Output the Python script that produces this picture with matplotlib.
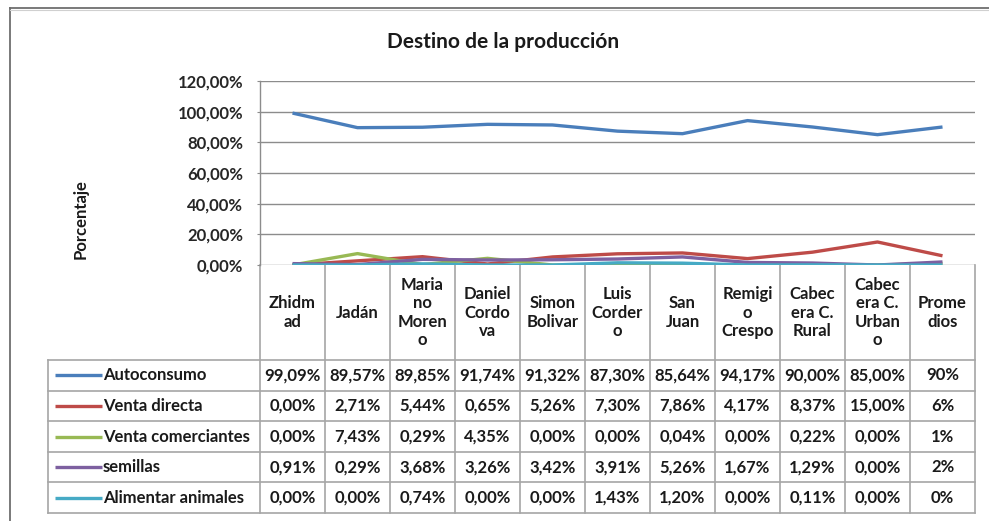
import matplotlib
matplotlib.use("Agg")
import matplotlib.pyplot as plt
from matplotlib.ticker import FuncFormatter

plt.rcParams['font.family'] = ['Lato', 'DejaVu Sans']

# ---------------- data ----------------
categories = ["Zhidm\nad", "Jadán", "Maria\nno\nMoren\no", "Daniel\nCordo\nva",
              "Simon\nBolivar", "Luis\nCorder\no", "San\nJuan", "Remigi\no\nCrespo",
              "Cabec\nera C.\nRural", "Cabec\nera C.\nUrban\no", "Prome\ndios"]
series_names = ["Autoconsumo", "Venta directa", "Venta comerciantes", "semillas",
                "Alimentar animales"]
autoconsumo = [99.09, 89.57, 89.85, 91.74, 91.32, 87.30, 85.64, 94.17, 90.00, 85.00, 90]
venta_directa = [0.00, 2.71, 5.44, 0.65, 5.26, 7.30, 7.86, 4.17, 8.37, 15.00, 6]
venta_comerciantes = [0.00, 7.43, 0.29, 4.35, 0.00, 0.00, 0.04, 0.00, 0.22, 0.00, 1]
semillas = [0.91, 0.29, 3.68, 3.26, 3.42, 3.91, 5.26, 1.67, 1.29, 0.00, 2]
alimentar_animales = [0.00, 0.00, 0.74, 0.00, 0.00, 1.43, 1.20, 0.00, 0.11, 0.00, 0]
y_ticks = [0, 20, 40, 60, 80, 100, 120]
title = "Destino de la producción"
y_label = "Porcentaje"

series = [autoconsumo, venta_directa, venta_comerciantes, semillas, alimentar_animales]
colors = ["#4A7EBB", "#BE4B48", "#98B954", "#7D60A0", "#46AAC5"]

# ---------------- layout (pixels) ----------------
W, H = 989, 521
fig = plt.figure(figsize=(W / 100, H / 100), dpi=100)

px_left, px_right = 260, 975
px_top, px_zero = 81, 265
header_bottom = 360
row_h = 30.6
legend_left = 48
fs = 12

ax = fig.add_axes([px_left / W, 1 - px_zero / H, (px_right - px_left) / W,
                   (px_zero - px_top) / H])
n = len(categories)
x = list(range(n))
for vals, c in zip(series, colors):
    ax.plot(x, vals, color=c, lw=2.4, solid_joinstyle='round', solid_capstyle='butt',
            zorder=3)
ax.set_xlim(-0.5, n - 0.5)
ax.set_ylim(min(y_ticks), max(y_ticks))
ax.set_yticks(y_ticks)
ax.yaxis.set_major_formatter(FuncFormatter(lambda v, p: f"{v:.2f}%".replace('.', ',')))
ax.set_xticks([])
ax.grid(axis='y', color='#8C8C8C', lw=1.0, zorder=1)
for s in ['top', 'right', 'bottom']:
    ax.spines[s].set_visible(False)
ax.spines['left'].set_color('#8C8C8C')
ax.spines['left'].set_linewidth(1.0)
ax.tick_params(axis='y', length=2, color='#8C8C8C', pad=10, labelsize=fs,
               labelcolor='#262626')
for lab in ax.get_yticklabels():
    lab.set_fontweight('bold')
ax.set_facecolor('none')

# overlay axes in pixel coordinates for title, frame and data table
ov = fig.add_axes([0, 0, 1, 1], zorder=-1)
ov.set_xlim(0, W)
ov.set_ylim(H, 0)
ov.axis('off')

# outer chart frame: only top and left edges are visible in the crop
ov.plot([10, W + 5], [8, 8], color='#6E6E6E', lw=1.3, clip_on=False)
ov.plot([10, 10], [8, H + 5], color='#6E6E6E', lw=1.3, clip_on=False)
ov.plot([10, W + 5], [9.5, 9.5], color='#D0D0D0', lw=0.8, clip_on=False)

ov.text(503, 42, title, ha='center', va='center', fontsize=15, fontweight='bold',
        color='#1A1A1A')
ov.text(81, 219, y_label, ha='center', va='center', rotation=90, fontsize=12,
        fontweight='bold', color='#1A1A1A')

grid_c = '#A6A6A6'
col_w = (px_right - px_left) / n
col_edges = [px_left + i * col_w for i in range(n + 1)]
n_rows = len(series)
row_edges = [header_bottom + i * row_h for i in range(n_rows + 1)]
table_bottom = row_edges[-1]

for xe in col_edges:
    ov.plot([xe, xe], [px_zero, table_bottom], color=grid_c, lw=1.2)
ov.plot([legend_left, legend_left], [header_bottom, table_bottom], color=grid_c, lw=1.2)
for ye in row_edges:
    ov.plot([legend_left, px_right], [ye, ye], color=grid_c, lw=1.2)

hy = (px_zero + header_bottom) / 2
for i, cat in enumerate(categories):
    cx = (col_edges[i] + col_edges[i + 1]) / 2
    ov.text(cx, hy, cat, ha='center', va='center', fontsize=fs, fontweight='bold',
            color='#1A1A1A', linespacing=1.2, multialignment='center')

for r, (name, vals, c) in enumerate(zip(series_names, series, colors)):
    cy = (row_edges[r] + row_edges[r + 1]) / 2
    ov.plot([55, 102], [cy, cy], color=c, lw=2.4, solid_capstyle='butt')
    ov.text(103, cy, name, ha='left', va='center', fontsize=fs, fontweight='bold',
            color='#1A1A1A')
    for i, v in enumerate(vals):
        cx = (col_edges[i] + col_edges[i + 1]) / 2
        if i == n - 1:
            s = f"{v:.0f}%"
        else:
            s = f"{v:.2f}%".replace('.', ',')
        ov.text(cx, cy, s, ha='center', va='center', fontsize=fs, fontweight='bold',
                color='#1A1A1A')

fig.savefig("out.png", dpi=100, facecolor='white')
